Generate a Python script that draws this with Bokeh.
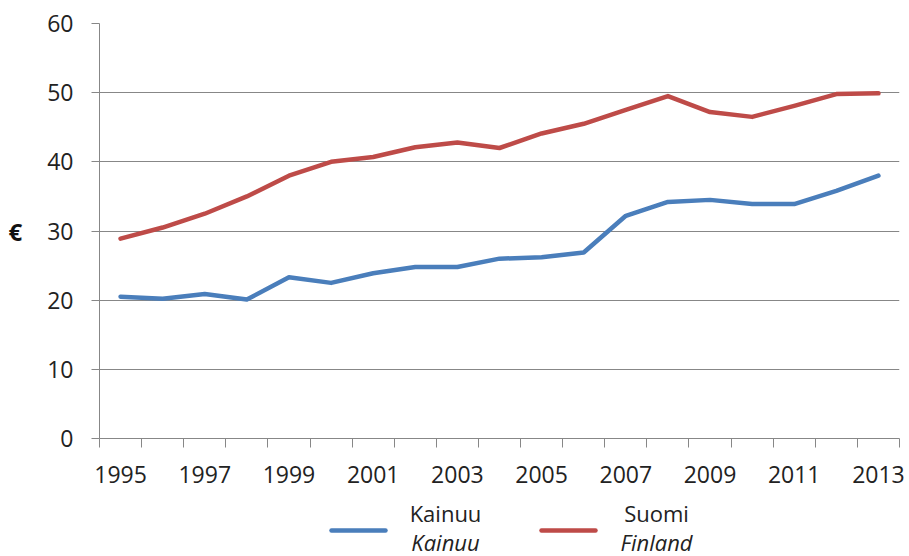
from bokeh.plotting import figure
from bokeh.models import ColumnDataSource, FixedTicker, Range1d
from bokeh.layouts import column
from bokeh.core.properties import value
from bokeh.embed import file_html
from bokeh.resources import INLINE

years = list(range(1995, 2014))
kainuu = [20.5, 20.2, 20.9, 20.1, 23.3, 22.5, 23.9, 24.8, 24.8, 26.0, 26.2, 26.9,
          32.2, 34.2, 34.5, 33.9, 33.9, 35.8, 38.0]
suomi = [28.9, 30.5, 32.5, 35.0, 38.0, 40.0, 40.7, 42.1, 42.8, 42.0, 44.1, 45.5,
         47.5, 49.5, 47.2, 46.5, 48.1, 49.8, 49.9]
y_ticks = [0, 10, 20, 30, 40, 50, 60]
label_years = [y for y in years if (y - years[0]) % 2 == 0]
names_fi = ["Kainuu", "Suomi"]
names_en = ["Kainuu", "Finland"]

BLUE = "#4A7EBB"
RED = "#BE4B48"
GRID = "#878787"
FONT = "Open Sans"
TEXT = "#222222"

MAIN_H = 494
LEG_H = 62

xpos = [i + 0.5 for i in range(len(years))]
src = ColumnDataSource(dict(x=xpos, kainuu=kainuu, suomi=suomi))

p = figure(width=909, height=MAIN_H, output_backend="svg", toolbar_location=None,
           x_range=Range1d(0, len(years)), y_range=Range1d(0, 60),
           min_border_left=99, min_border_right=10, min_border_top=23,
           min_border_bottom=MAIN_H - 438)
p.outline_line_color = None

p.line("x", "kainuu", source=src, line_color=BLUE, line_width=4.5, line_join="round", line_cap="round")
p.line("x", "suomi", source=src, line_color=RED, line_width=4.5, line_join="round", line_cap="round")

# x axis: labels at category centres, tick marks at category boundaries
xa = p.xaxis[0]
xa.ticker = FixedTicker(ticks=[years.index(y) + 0.5 for y in label_years],
                        minor_ticks=list(range(len(years) + 1)))
xa.major_label_overrides = {years.index(y) + 0.5: str(y) for y in label_years}
xa.major_tick_out = 0
xa.major_tick_in = 0
xa.minor_tick_out = 9
xa.minor_tick_in = 0
xa.minor_tick_line_color = GRID
xa.axis_line_color = GRID
xa.major_label_text_font = FONT
xa.major_label_text_font_size = "23px"
xa.major_label_text_color = TEXT
xa.major_label_standoff = 18

# y axis
ya = p.yaxis[0]
ya.ticker = FixedTicker(ticks=y_ticks)
ya.major_tick_out = 8
ya.major_tick_in = 0
ya.minor_tick_out = 0
ya.minor_tick_in = 0
ya.major_tick_line_color = GRID
ya.axis_line_color = GRID
ya.major_label_text_font = FONT
ya.major_label_text_font_size = "23px"
ya.major_label_text_color = TEXT
ya.major_label_standoff = 18
ya.axis_label = "€"
ya.axis_label_orientation = "horizontal"
ya.axis_label_text_font = FONT
ya.axis_label_text_font_size = "24px"
ya.axis_label_text_font_style = "bold"
ya.axis_label_text_color = "#111111"
ya.axis_label_standoff = 22

p.xgrid.grid_line_color = None
p.ygrid.grid_line_color = GRID
p.ygrid.grid_line_width = 1.2
p.ygrid.ticker = FixedTicker(ticks=y_ticks)

# legend strip below the chart; its frame is aligned with the main frame
# (x in page pixels 99..899, y in pixels downward from the strip's top)
lg = figure(width=909, height=LEG_H, output_backend="svg", toolbar_location=None,
            x_range=Range1d(99, 899), y_range=Range1d(LEG_H, 0),
            min_border_left=99, min_border_right=10, min_border_top=0, min_border_bottom=0)
lg.axis.visible = False
lg.grid.visible = False
lg.outline_line_color = None

top = MAIN_H
leg = ColumnDataSource(dict(
    x0=[331, 541], x1=[385, 595], ly=[530 - top] * 2, tx=[445, 656],
    color=[BLUE, RED], fi=names_fi, en=names_en))
lg.segment(x0="x0", y0="ly", x1="x1", y1="ly", color="color", line_width=4.5,
           line_cap="round", source=leg)
lg.text(x="tx", y=512 - top, text="fi", source=leg, text_font=value(FONT),
        text_font_size="22px", text_color=TEXT, text_align="center", text_baseline="middle")
lg.text(x="tx", y=541 - top, text="en", source=leg, text_font=value(FONT),
        text_font_size="22px", text_font_style="italic", text_color=TEXT,
        text_align="center", text_baseline="middle")

layout = column(p, lg, spacing=0)
open("out.html", "w").write(file_html(layout, INLINE))
